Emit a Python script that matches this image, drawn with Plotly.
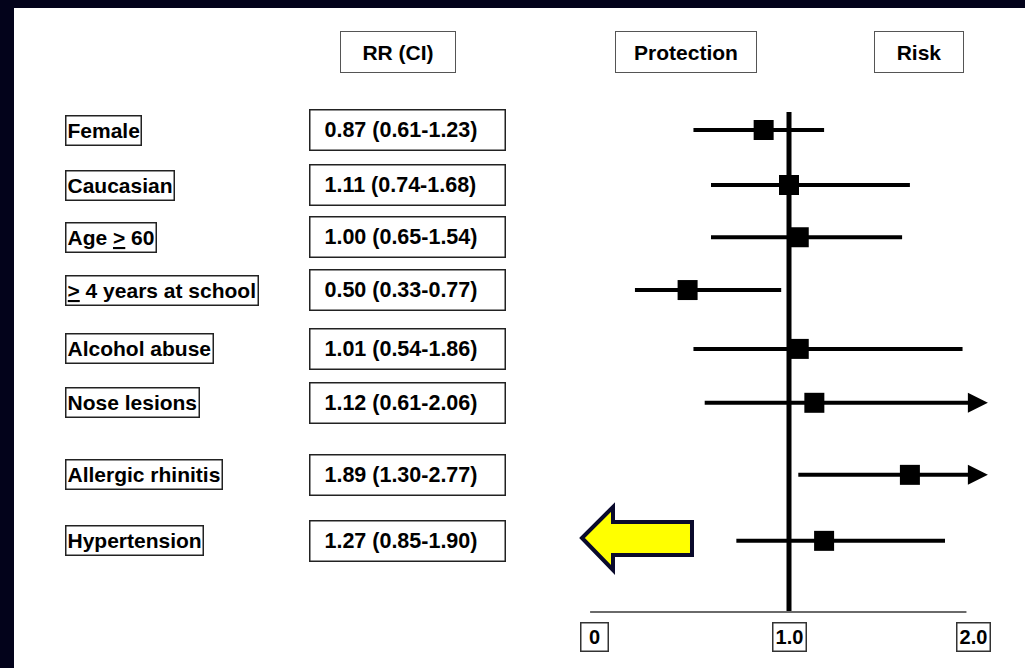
import plotly.graph_objects as go

# ---------------- data ----------------
factors = ["Female", "Caucasian", "Age <u>&gt;</u> 60", "<u>&gt;</u> 4 years at school",
           "Alcohol abuse", "Nose lesions", "Allergic rhinitis", "Hypertension"]
rr_text = ["0.87 (0.61-1.23)", "1.11 (0.74-1.68)", "1.00 (0.65-1.54)", "0.50 (0.33-0.77)",
           "1.01 (0.54-1.86)", "1.12 (0.61-2.06)", "1.89 (1.30-2.77)", "1.27 (0.85-1.90)"]
# values as drawn in the picture
rr_plot = [0.87, 1.00, 1.05, 0.48, 1.05, 1.13, 1.62, 1.18]
ci_lo = [0.51, 0.60, 0.60, 0.21, 0.51, 0.56, 1.04, 0.73]
ci_hi = [1.18, 1.62, 1.58, 0.96, 1.89, 2.06, 2.77, 1.80]
row_pos = [0, 1.0, 1.95, 2.91, 3.98, 4.96, 6.27, 7.47]
tick_vals = [0, 1, 2]
tick_text = ["0", "1.0", "2.0"]
headers = ["RR (CI)", "Protection", "Risk"]
x_cap = 2.02  # display limit; CIs beyond it get an arrow

# ---------------- geometry helpers ----------------
W, H = 1025, 668
X0_PX, X_UNIT = 594, 195     # pixel of x=0, pixels per unit
Y0_PX, Y_UNIT = 130, 55      # pixel of first row, pixels per row unit


def xp(px):
    return px / W


def yp(py):
    return 1 - py / H


FONT = dict(family="Liberation Sans, Arial, sans-serif", size=21, color="black", weight="bold")
NAVY = "#03031b"

fig = go.Figure()

# CI lines (non-truncated)
lx, ly = [], []
for lo, hi, r in zip(ci_lo, ci_hi, row_pos):
    if hi <= x_cap:
        lx += [lo, hi, None]
        ly += [r, r, None]
fig.add_trace(go.Scatter(x=lx, y=ly, mode="lines", line=dict(color="black", width=4),
                         hoverinfo="skip", showlegend=False))

# point estimates
fig.add_trace(go.Scatter(x=rr_plot, y=row_pos, mode="markers",
                         marker=dict(symbol="square", size=20, color="black"),
                         showlegend=False, hoverinfo="skip"))

annotations = []
# truncated CIs -> arrows
for lo, hi, r in zip(ci_lo, ci_hi, row_pos):
    if hi > x_cap:
        annotations.append(dict(x=x_cap, y=r, ax=lo, ay=r, xref="x", yref="y",
                                axref="x", ayref="y", text="", showarrow=True,
                                arrowhead=2, arrowsize=1, arrowwidth=4, arrowcolor="black"))

# factor labels
for lab, r in zip(factors, row_pos):
    annotations.append(dict(x=xp(65), y=r, xref="paper", yref="y", text=lab,
                            showarrow=False, xanchor="left", yanchor="middle",
                            font=FONT, bordercolor="#222", borderwidth=1.5, borderpad=1,
                            height=26, bgcolor="white"))

# RR (CI) boxes
for t, r in zip(rr_text, row_pos):
    annotations.append(dict(x=xp(309), y=r, xref="paper", yref="y", text="\u00a0\u00a0" + t,
                            showarrow=False, xanchor="left", yanchor="middle", align="left",
                            width=190, height=35, font=dict(FONT, size=21.5), bordercolor="#222",
                            borderwidth=1.5, borderpad=2, bgcolor="white"))

# header boxes
for t, cx, w in zip(headers, [398, 686, 919], [110, 136, 84]):
    annotations.append(dict(x=xp(cx), y=yp(52), xref="paper", yref="paper", text=t,
                            showarrow=False, xanchor="center", yanchor="middle",
                            width=w, height=36, font=FONT, bordercolor="#555",
                            borderwidth=1, borderpad=2, bgcolor="white"))

# tick label boxes
for v, t in zip(tick_vals, tick_text):
    annotations.append(dict(x=v, y=yp(637), xref="x", yref="paper", text=t,
                            showarrow=False, xanchor="center", yanchor="middle",
                            xshift=-11 if v == 2 else 0,
                            width=24 if len(t) == 1 else 30, height=25,
                            font=dict(FONT, size=20), bordercolor="#333",
                            borderwidth=1.5, borderpad=1, bgcolor="white"))

shapes = [
    # white canvas inside the navy frame
    dict(type="rect", xref="paper", yref="paper", x0=xp(14), x1=1, y0=0, y1=yp(8),
         fillcolor="white", line=dict(width=0), layer="below"),
    # reference line at RR = 1
    dict(type="line", xref="x", yref="y", x0=1, x1=1,
         y0=(112 - Y0_PX) / Y_UNIT, y1=(612 - Y0_PX) / Y_UNIT,
         line=dict(color="black", width=5)),
    # horizontal axis line
    dict(type="line", xref="x", yref="y", x0=-0.02, x1=1.91,
         y0=(612 - Y0_PX) / Y_UNIT, y1=(612 - Y0_PX) / Y_UNIT,
         line=dict(color="#6a6a6a", width=2)),
]

# yellow arrow pointing left (decoration)
arrow_pts = [(582, 538), (613, 507), (613, 522), (692, 522), (692, 555),
             (613, 555), (613, 570)]
path = "M " + " L ".join(f"{xp(a):.5f},{yp(b):.5f}" for a, b in arrow_pts) + " Z"
shapes.append(dict(type="path", xref="paper", yref="paper", path=path,
                   fillcolor="#ffff00", line=dict(color="#0a0a2c", width=4)))

fig.update_layout(
    width=W, height=H,
    margin=dict(l=0, r=0, t=0, b=0),
    paper_bgcolor=NAVY, plot_bgcolor="rgba(0,0,0,0)",
    showlegend=False,
    xaxis=dict(range=[-X0_PX / X_UNIT, (W - X0_PX) / X_UNIT], visible=False,
               fixedrange=True, domain=[0, 1]),
    yaxis=dict(range=[(H - Y0_PX) / Y_UNIT, -Y0_PX / Y_UNIT], visible=False,
               fixedrange=True, domain=[0, 1]),
    annotations=annotations,
    shapes=shapes,
)

fig.write_html("out.html", config={"displayModeBar": False, "staticPlot": True},
               post_script="document.body.style.margin='0';document.body.style.overflow='hidden';")
